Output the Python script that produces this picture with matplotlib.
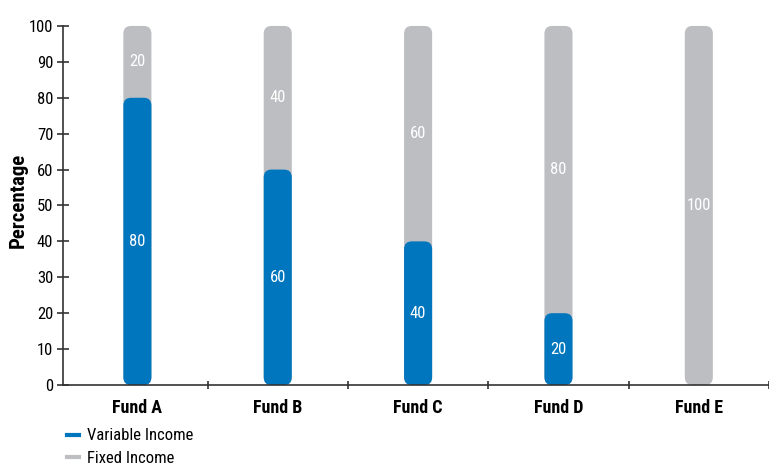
import matplotlib
matplotlib.use("Agg")
import matplotlib.pyplot as plt
from matplotlib.patches import FancyBboxPatch
from matplotlib.lines import Line2D
import numpy as np

funds = ["Fund A", "Fund B", "Fund C", "Fund D", "Fund E"]
variable_income = [80, 60, 40, 20, 0]
fixed_income = [20, 40, 60, 80, 100]
y_ticks = [0, 10, 20, 30, 40, 50, 60, 70, 80, 90, 100]

BLUE = "#0076be"
GRAY = "#bdbec2"

plt.rcParams["font.family"] = ["Roboto Condensed", "Archivo Narrow", "DejaVu Sans"]

fig = plt.figure(figsize=(7.69, 4.68), dpi=100)
ax = fig.add_axes([63 / 769, 83 / 468, 706 / 769, 377 / 468])

x = np.arange(len(funds))
width = 0.2
ax.set_xlim(-0.53, len(funds) - 0.54)
ax.set_ylim(0, 105)

# y units per x unit, so the rounded corners come out circular
xspan = ax.get_xlim()[1] - ax.get_xlim()[0]
aspect = (105 / 377) / (xspan / 706)


def rounded_bar(xc, h, color):
    if h <= 0:
        return
    p = FancyBboxPatch((xc - width / 2, 0), width, h,
                       boxstyle="round,pad=0,rounding_size=0.055",
                       mutation_aspect=aspect, fc=color, ec="none", zorder=2)
    ax.add_patch(p)


totals = [v + f for v, f in zip(variable_income, fixed_income)]
for xi, t in zip(x, totals):
    rounded_bar(xi, t, GRAY)
for xi, v in zip(x, variable_income):
    rounded_bar(xi, v, BLUE)

# segment labels
for xi, v, f in zip(x, variable_income, fixed_income):
    if v > 0:
        ax.text(xi, v / 2, str(v), color="white", ha="center", va="center",
                fontsize=12, zorder=3)
    if f > 0:
        ax.text(xi, v + f / 2, str(f), color="white", ha="center", va="center",
                fontsize=12, zorder=3)

ax.spines["top"].set_visible(False)
ax.spines["right"].set_visible(False)
ax.spines["left"].set_bounds(0, 100)
for s in ("left", "bottom"):
    ax.spines[s].set_color("#333333")
    ax.spines[s].set_linewidth(1.2)

ax.set_yticks(y_ticks)
ax.set_yticklabels([str(t) for t in y_ticks])
ax.set_xticks(x)
ax.set_xticklabels(funds, fontweight="bold", fontsize=13)
ax.set_xticks(np.arange(len(funds)) + 0.5, minor=True)
ax.tick_params(axis="x", which="major", length=0, pad=10)
ax.tick_params(axis="x", which="minor", direction="inout", length=6, width=1.2,
               color="#333333")
ax.tick_params(axis="y", direction="inout", length=8, width=1.2,
               color="#333333", labelsize=12, pad=3)
ax.set_ylabel("Percentage", fontweight="bold", fontsize=15)
ax.yaxis.set_label_coords(-0.05, (385 - 200) / 377)

handles = [Line2D([], [], color=BLUE, lw=3),
           Line2D([], [], color=GRAY, lw=3)]
fig.legend(handles, ["Variable Income", "Fixed Income"], loc="lower left",
           bbox_to_anchor=(67 / 769, 2 / 468), frameon=False, fontsize=12,
           handlelength=0.7, handletextpad=0.5, labelspacing=0.45,
           borderpad=0, borderaxespad=0)

fig.savefig("out.png", dpi=100)
